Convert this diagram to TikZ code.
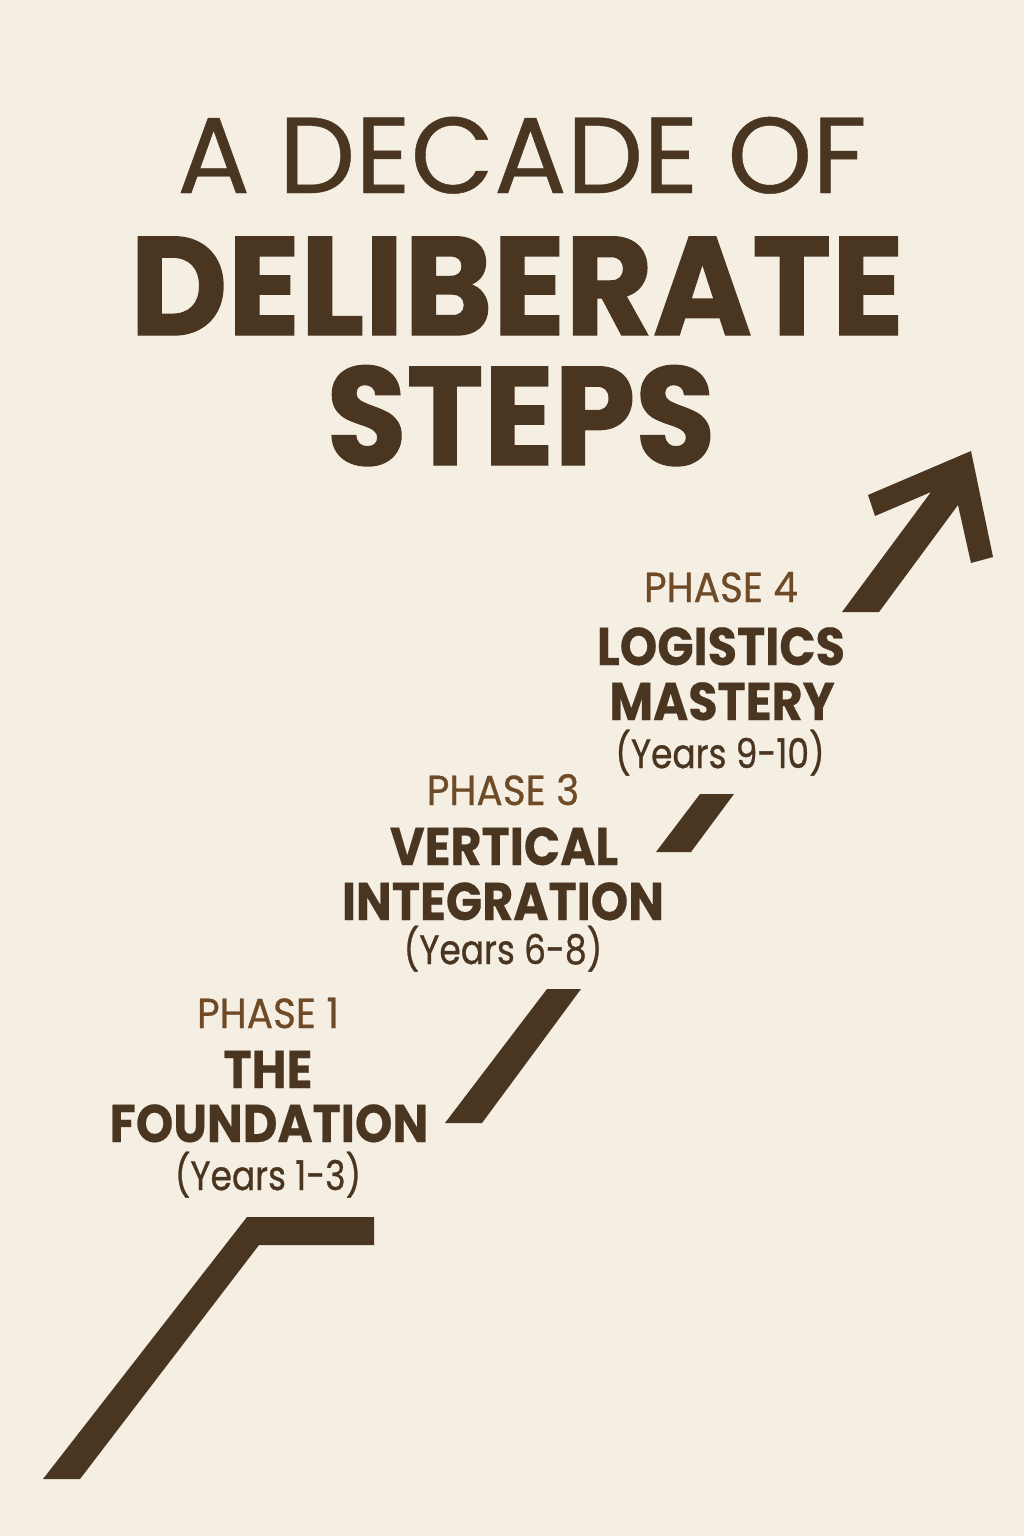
\documentclass[tikz,border=0pt]{standalone}
\usepackage{fontspec}
\setmainfont{Poppins}
\definecolor{bg}{HTML}{F5EEE3}
\definecolor{dark}{HTML}{4A3520}
\definecolor{mid}{HTML}{6E4B26}
\newcommand{\sqz}[2]{\scalebox{#1}[1]{#2}}
\begin{document}
\begin{tikzpicture}[x=1pt,y=-1pt,
  stepfill/.style={fill=dark,draw=none},
  ttl/.style={anchor=base,text=dark,inner sep=0pt},
  phase/.style={anchor=base,text=mid,inner sep=0pt,font=\fontsize{42}{42}\selectfont\addfontfeature{FakeBold=0.6}},
  lbl/.style={anchor=base,text=dark,inner sep=0pt,font=\fontsize{53}{53}\selectfont\bfseries\addfontfeature{FakeBold=0.4}},
  yrs/.style={anchor=base,text=dark,inner sep=0pt,font=\fontsize{41}{41}\selectfont\addfontfeature{FakeBold=0.8}}]
\fill[bg] (0,0) rectangle (1024,1536);
\useasboundingbox (0,0) rectangle (1024,1536);
% title
\node[ttl,font=\fontsize{108}{108}\selectfont\addfontfeature{FakeBold=0.4}] (t1) at (522,193) {A DECADE OF};
\node[ttl,font=\fontsize{140}{140}\selectfont\bfseries\addfontfeature{FakeBold=1}] (t2) at (517,335) {\sqz{0.96}{DELIBERATE}};
\node[ttl,font=\fontsize{140}{140}\selectfont\bfseries\addfontfeature{FakeBold=1}] (t3) at (521,465) {\sqz{0.93}{STEPS}};
% phase 4
\node[phase] (p4) at (721,602) {\sqz{0.93}{PHASE 4}};
\node[lbl] (p4a) at (721,665) {\sqz{0.9}{LOGISTICS}};
\node[lbl] (p4b) at (722,720) {\sqz{0.9}{MASTERY}};
\node[yrs] (p4c) at (720,768) {\sqz{0.84}{(Years 9-10)}};
% phase 3
\node[phase] (p3) at (503,805) {\sqz{0.93}{PHASE 3}};
\node[lbl] (p3a) at (504,865) {\sqz{0.9}{VERTICAL}};
\node[lbl] (p3b) at (503,920) {\sqz{0.9}{INTEGRATION}};
\node[yrs] (p3c) at (503,964) {\sqz{0.84}{(Years 6-8)}};
% phase 1
\node[phase] (p1) at (268,1028) {\sqz{0.93}{PHASE 1}};
\node[lbl] (p1a) at (268,1088) {\sqz{0.9}{THE}};
\node[lbl] (p1b) at (269,1142) {\sqz{0.9}{FOUNDATION}};
\node[yrs] (p1c) at (268,1190) {\sqz{0.84}{(Years 1-3)}};
% steps
\fill[stepfill] (43,1479) -- (247,1217) -- (374,1217) -- (374,1245) -- (259,1245) -- (80,1479) -- cycle;
\fill[stepfill] (547,989) -- (581,989) -- (482,1123) -- (445,1123) -- cycle;
\fill[stepfill] (700,794) -- (734,794) -- (691,852) -- (656,852) -- cycle;
\fill[stepfill] (842,612) -- (931,492) -- (875,516) -- (868,495) -- (971,451) -- (993,557) -- (971,563) -- (958,505) -- (879,612) -- cycle;
\end{tikzpicture}
\end{document}
